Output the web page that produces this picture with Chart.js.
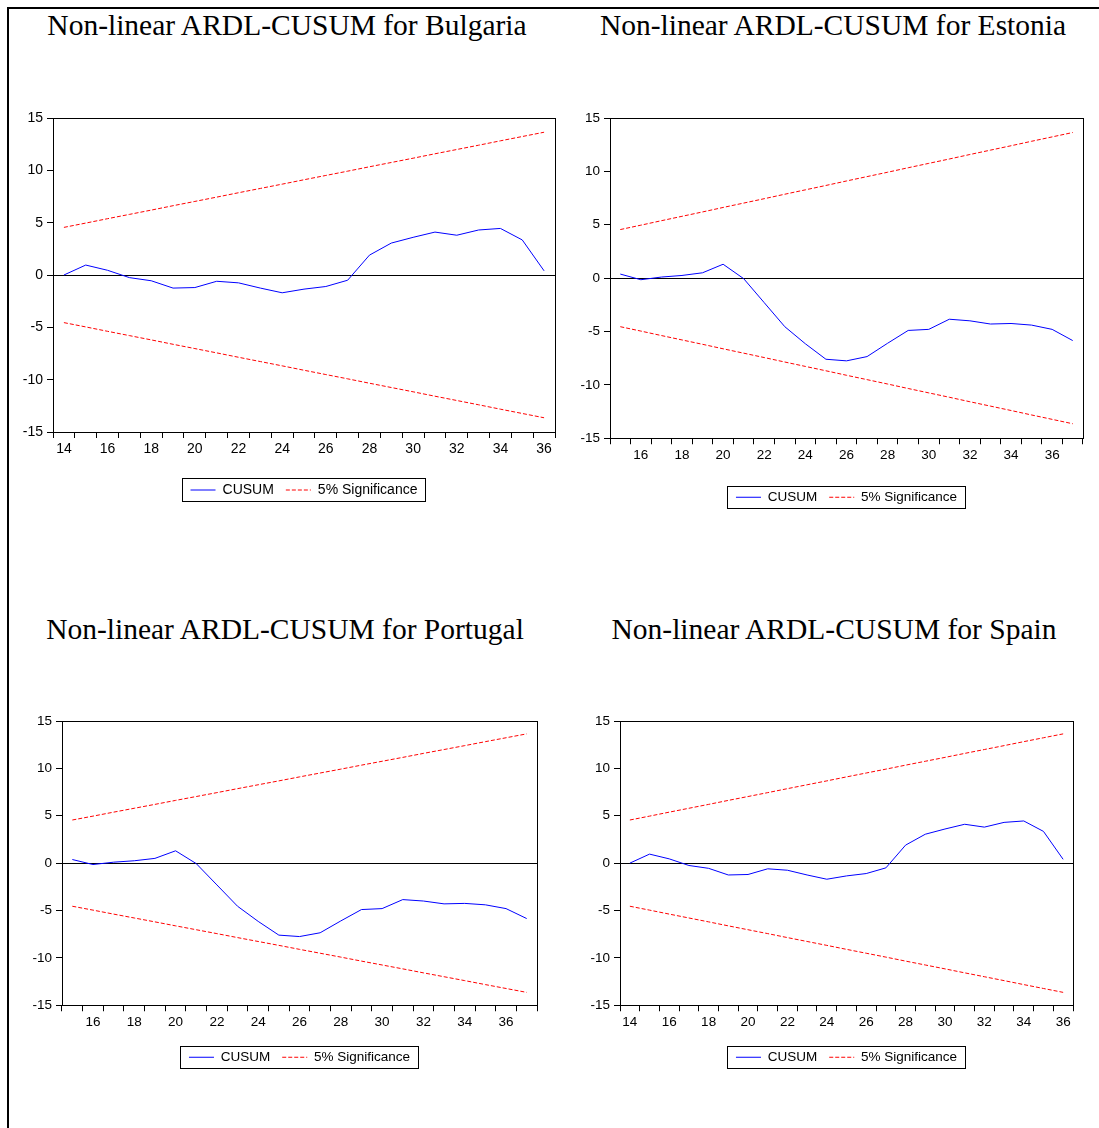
<!DOCTYPE html>
<html>
<head>
<meta charset="utf-8">
<script src="https://cdn.jsdelivr.net/npm/chart.js@4.4.1/dist/chart.umd.min.js"></script>
<style>
  html, body { margin: 0; padding: 0; background: #fff; overflow: hidden; }
  body { width: 1099px; height: 1128px; position: relative; }
  #frame { position: absolute; left: 7px; top: 7px; width: 1100px; height: 1130px;
           border-left: 2px solid #000; border-top: 2px solid #000; }
  .title { position: absolute; width: 600px; text-align: center; white-space: nowrap;
           font-family: "Liberation Serif", "Times New Roman", serif; font-size: 29.5px;
           line-height: 28px; color: #000; }
  canvas { position: absolute; }
</style>
</head>
<body>
<div id="frame"></div>
<div class="title" style="left:-13px; top:11px">Non-linear ARDL-CUSUM for Bulgaria</div>
<div class="title" style="left:533px; top:11px">Non-linear ARDL-CUSUM for Estonia</div>
<div class="title" style="left:-15px; top:615px">Non-linear ARDL-CUSUM for Portugal</div>
<div class="title" style="left:534px; top:615px">Non-linear ARDL-CUSUM for Spain</div>
<canvas id="bulgaria"></canvas>
<canvas id="estonia"></canvas>
<canvas id="portugal"></canvas>
<canvas id="spain"></canvas>
<script>
// observations on the x axis
const obsBulgaria = [14, 15, 16, 17, 18, 19, 20, 21, 22, 23, 24, 25, 26, 27, 28, 29, 30, 31, 32, 33, 34, 35, 36];
const obsEstonia  = [15, 16, 17, 18, 19, 20, 21, 22, 23, 24, 25, 26, 27, 28, 29, 30, 31, 32, 33, 34, 35, 36, 37];
const obsPortugal = [15, 16, 17, 18, 19, 20, 21, 22, 23, 24, 25, 26, 27, 28, 29, 30, 31, 32, 33, 34, 35, 36, 37];
const obsSpain    = [14, 15, 16, 17, 18, 19, 20, 21, 22, 23, 24, 25, 26, 27, 28, 29, 30, 31, 32, 33, 34, 35, 36];

// CUSUM statistics
const cusumBulgaria = [0.0, 0.95, 0.45, -0.25, -0.55, -1.25, -1.2, -0.6, -0.75, -1.25, -1.7, -1.35,
                       -1.1, -0.5, 1.9, 3.05, 3.6, 4.1, 3.8, 4.3, 4.45, 3.35, 0.4];
const cusumEstonia  = [0.38, -0.15, 0.1, 0.25, 0.5, 1.3, -0.05, -2.3, -4.55, -6.15, -7.6, -7.75,
                       -7.35, -6.1, -4.9, -4.8, -3.85, -4.0, -4.3, -4.25, -4.4, -4.8, -5.85];
const cusumPortugal = [0.38, -0.15, 0.1, 0.25, 0.5, 1.3, -0.05, -2.3, -4.55, -6.15, -7.6, -7.75,
                       -7.35, -6.1, -4.9, -4.8, -3.85, -4.0, -4.3, -4.25, -4.4, -4.8, -5.85];
const cusumSpain    = [0.0, 0.95, 0.45, -0.25, -0.55, -1.25, -1.2, -0.6, -0.75, -1.25, -1.7, -1.35,
                       -1.1, -0.5, 1.9, 3.05, 3.6, 4.1, 3.8, 4.3, 4.45, 3.35, 0.4];

// 5% significance bounds
const upperBound = [4.55, 4.96, 5.38, 5.79, 6.20, 6.62, 7.03, 7.44, 7.86, 8.27, 8.68, 9.10,
                    9.51, 9.92, 10.34, 10.75, 11.16, 11.58, 11.99, 12.40, 12.82, 13.23, 13.64];
const lowerBound = [-4.55, -4.96, -5.38, -5.79, -6.20, -6.62, -7.03, -7.44, -7.86, -8.27, -8.68, -9.10,
                    -9.51, -9.92, -10.34, -10.75, -11.16, -11.58, -11.99, -12.40, -12.82, -13.23, -13.64];

const yTicks = { min: -15, max: 15, step: 5 };

Chart.defaults.font.family = '"Liberation Sans", Arial, sans-serif';
Chart.defaults.color = '#000';

const CUSUM_COLOR = '#0000ff';
const BOUND_COLOR = '#ff0000';

// frame around the legend, like the EViews output
const legendFrame = {
    id: 'legendFrame',
    afterDraw(chart) {
        const boxes = chart.legend && chart.legend.legendHitBoxes;
        if (!boxes || !boxes.length) return;
        const first = boxes[0], last = boxes[boxes.length - 1];
        const x0 = Math.round(first.left - 9) + 0.5;
        const x1 = Math.round(last.left + last.width + 8) + 0.5;
        const y0 = Math.round(first.top - 5) + 0.5;
        const y1 = Math.round(first.top + first.height + 4) + 0.5;
        const ctx = chart.ctx;
        ctx.save();
        ctx.strokeStyle = '#000';
        ctx.lineWidth = 1;
        ctx.strokeRect(x0, y0, x1 - x0, y1 - y0);
        ctx.restore();
    }
};

const panels = [
    { id: 'bulgaria', obs: obsBulgaria, cusum: cusumBulgaria, plot: { l: 53, r: 555, t: 118, b: 432 }, legendMid: 490, font: 14 },
    { id: 'estonia',  obs: obsEstonia,  cusum: cusumEstonia,  plot: { l: 610, r: 1083, t: 118, b: 438 }, legendMid: 497, font: 13.5 },
    { id: 'portugal', obs: obsPortugal, cusum: cusumPortugal, plot: { l: 62, r: 537, t: 721, b: 1005 }, legendMid: 1057, font: 13.5 },
    { id: 'spain',    obs: obsSpain,    cusum: cusumSpain,    plot: { l: 620, r: 1073, t: 721, b: 1005 }, legendMid: 1057, font: 13.5 }
];

function buildPanel(p) {
    const yAxisW = 50, padR = 12, padT = 20, padB = 4, legPad = 12;
    const legendTop = p.legendMid - legPad - p.font / 2;
    const legendH = p.font + legPad + 10;
    const cx = p.plot.l - yAxisW, cy = p.plot.t - padT;
    const cw = p.plot.r - cx + padR;
    const ch = Math.round(legendTop + legendH + padB - cy);

    const canvas = document.getElementById(p.id);
    canvas.width = cw;
    canvas.height = ch;
    canvas.style.left = cx + 'px';
    canvas.style.top = cy + 'px';
    canvas.style.width = cw + 'px';
    canvas.style.height = ch + 'px';

    return new Chart(canvas, {
        type: 'line',
        data: {
            labels: p.obs.map(String),
            datasets: [{
                label: 'CUSUM',
                data: p.cusum,
                borderColor: CUSUM_COLOR,
                borderWidth: 1,
                pointRadius: 0,
                tension: 0
            }, {
                label: '5% Significance',
                data: upperBound,
                borderColor: BOUND_COLOR,
                borderWidth: 1,
                borderDash: [4, 2],
                pointRadius: 0,
                tension: 0
            }, {
                label: '',
                data: lowerBound,
                borderColor: BOUND_COLOR,
                borderWidth: 1,
                borderDash: [4, 2],
                pointRadius: 0,
                tension: 0
            }]
        },
        options: {
            responsive: false,
            animation: false,
            events: [],
            layout: { padding: { left: 0, right: padR, top: padT, bottom: padB } },
            scales: {
                x: {
                    type: 'category',
                    offset: true,
                    grid: { offset: true, drawOnChartArea: false, color: '#000', tickColor: '#000', tickLength: 6 },
                    border: { color: '#000' },
                    ticks: {
                        autoSkip: false,
                        maxRotation: 0,
                        padding: 3,
                        font: { size: p.font },
                        callback: function (value) {
                            const lab = this.getLabelForValue(value);
                            return Number(lab) % 2 === 0 ? lab : '';
                        }
                    },
                    afterFit: s => { s.height = legendTop - p.plot.b; }
                },
                x2: {
                    type: 'category',
                    position: 'top',
                    grid: { display: false, drawTicks: false },
                    ticks: { display: false },
                    border: { color: '#000' },
                    afterFit: s => { s.height = 0; }
                },
                y: {
                    min: yTicks.min,
                    max: yTicks.max,
                    ticks: { stepSize: yTicks.step, padding: 4, font: { size: p.font } },
                    grid: {
                        color: c => (c.tick && c.tick.value === 0) ? '#000' : 'rgba(0,0,0,0)',
                        tickColor: '#000',
                        tickLength: 6
                    },
                    border: { color: '#000' },
                    afterFit: s => { s.width = yAxisW; }
                },
                y2: {
                    position: 'right',
                    min: yTicks.min,
                    max: yTicks.max,
                    grid: { display: false, drawTicks: false },
                    ticks: { display: false },
                    border: { color: '#000' },
                    afterFit: s => { s.width = 0; }
                }
            },
            plugins: {
                tooltip: { enabled: false },
                legend: {
                    position: 'bottom',
                    fullSize: false,
                    labels: {
                        usePointStyle: true,
                        pointStyle: 'line',
                        pointStyleWidth: 25,
                        padding: legPad,
                        color: '#000',
                        font: { size: p.font },
                        generateLabels(chart) {
                            const items = Chart.defaults.plugins.legend.labels.generateLabels(chart);
                            items.forEach(it => {
                                const ds = chart.data.datasets[it.datasetIndex];
                                it.lineDash = ds.borderDash || [];
                                it.lineWidth = ds.borderWidth;
                                it.strokeStyle = ds.borderColor;
                                it.fillStyle = ds.borderColor;
                            });
                            return items.filter(it => it.datasetIndex < 2);
                        }
                    }
                }
            }
        },
        plugins: [legendFrame]
    });
}

panels.forEach(buildPanel);
</script>
</body>
</html>
